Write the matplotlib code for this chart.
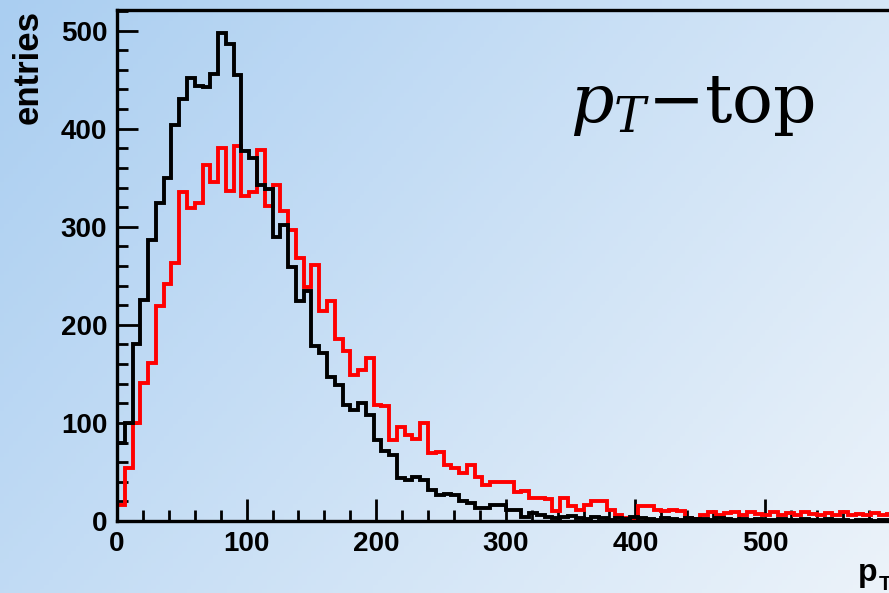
import numpy as np
import matplotlib
matplotlib.use("Agg")
import matplotlib.pyplot as plt
from matplotlib.ticker import MultipleLocator

plt.rcParams['mathtext.fontset'] = 'dejavuserif'

# histogram binning: 100 bins of 6 GeV from 0 to 600
bin_edges = np.arange(0, 601, 6)

# black histogram (entries per bin)
black_counts = [
    80, 100, 180, 225, 287, 324, 350, 404, 430, 452,
    444, 442, 456, 498, 486, 455, 377, 370, 343, 338,
    290, 302, 259, 224, 234, 178, 171, 147, 139, 118,
    113, 120, 108, 83, 71, 67, 44, 42, 45, 42,
    32, 27, 28, 26, 20, 18, 13, 13, 16, 16,
    11, 11, 4, 8, 6, 4, 3, 4, 5, 3,
    2, 4, 3, 1, 3, 2, 4, 3, 2, 1,
    3, 2, 1, 3, 2, 2, 1, 3, 2, 1,
    2, 1, 2, 1, 1, 2, 1, 1, 2, 1,
    1, 2, 1, 1, 0, 1, 1, 0, 1, 1,
]

# red histogram (entries per bin)
red_counts = [
    16, 54, 100, 141, 161, 219, 242, 263, 335, 319,
    324, 363, 346, 380, 336, 382, 331, 335, 378, 321,
    343, 316, 297, 268, 239, 261, 214, 224, 186, 173,
    149, 154, 166, 118, 117, 83, 96, 88, 84, 100,
    69, 70, 57, 54, 49, 57, 45, 37, 40, 40,
    40, 30, 31, 23, 23, 22, 10, 23, 15, 11,
    16, 20, 20, 11, 6, 3, 3, 15, 15, 11,
    10, 11, 10, 3, 2, 6, 9, 6, 8, 9,
    6, 9, 7, 6, 9, 6, 8, 6, 9, 7,
    6, 8, 6, 9, 6, 7, 6, 8, 6, 7,
]

x_major = [0, 100, 200, 300, 400, 500]
y_major = [0, 100, 200, 300, 400, 500]

W, H = 889, 593
fig = plt.figure(figsize=(W / 100, H / 100), dpi=100)

# light blue gradient background
bg = fig.add_axes([0, 0, 1, 1], zorder=0)
gx, gy = np.meshgrid(np.linspace(0, 1, 200), np.linspace(0, 1, 140))
t = np.clip(0.65 * gx + 0.35 * gy, 0, 1)
c0 = np.array([170, 206, 241]) / 255.0
c1 = np.array([236, 243, 250]) / 255.0
img = c0[None, None, :] + (c1 - c0)[None, None, :] * t[:, :, None]
bg.imshow(img, aspect='auto', extent=[0, 1, 0, 1], origin='upper')
bg.set_axis_off()

left = 117 / W
bottom = (H - 521) / H
width = 777.6 / W
height = (521 - 10) / H
ax = fig.add_axes([left, bottom, width, height], zorder=1)
ax.patch.set_alpha(0)

ax.stairs(red_counts, bin_edges, color='#ff0000', lw=2.8, zorder=2)
ax.stairs(black_counts, bin_edges, color='black', lw=2.8, zorder=3)

ax.set_xlim(0, 600)
ax.set_ylim(0, 521)

for s in ax.spines.values():
    s.set_linewidth(2.4)

ax.set_xticks(x_major)
ax.set_yticks(y_major)
ax.xaxis.set_minor_locator(MultipleLocator(20))
ax.yaxis.set_minor_locator(MultipleLocator(20))
ax.tick_params(which='both', direction='in', width=2.0, top=False, right=False)
ax.tick_params(which='major', length=16, pad=7)
ax.tick_params(which='minor', length=8)
ax.tick_params(axis='y', which='major', length=15)

for lab in ax.get_xticklabels() + ax.get_yticklabels():
    lab.set_fontfamily('Liberation Sans')
    lab.set_fontweight('bold')
    lab.set_fontsize(20)

fig.text(28 / W, 1 - 10 / H, 'entries', rotation=90, ha='center', va='top',
         fontfamily='Liberation Sans', fontweight='bold', fontsize=25)

fig.text(858 / W, (H - 581) / H, 'p', ha='left', va='baseline',
         fontfamily='Liberation Sans', fontweight='bold', fontsize=23)
fig.text(879 / W, (H - 590) / H, 'T', ha='left', va='baseline',
         fontfamily='Liberation Sans', fontweight='bold', fontsize=15)

fig.text(570 / W, (H - 122) / H, r'$p_T$−top', ha='left', va='baseline',
         fontfamily='DejaVu Serif', fontsize=49)

fig.savefig('out.png', dpi=100)
